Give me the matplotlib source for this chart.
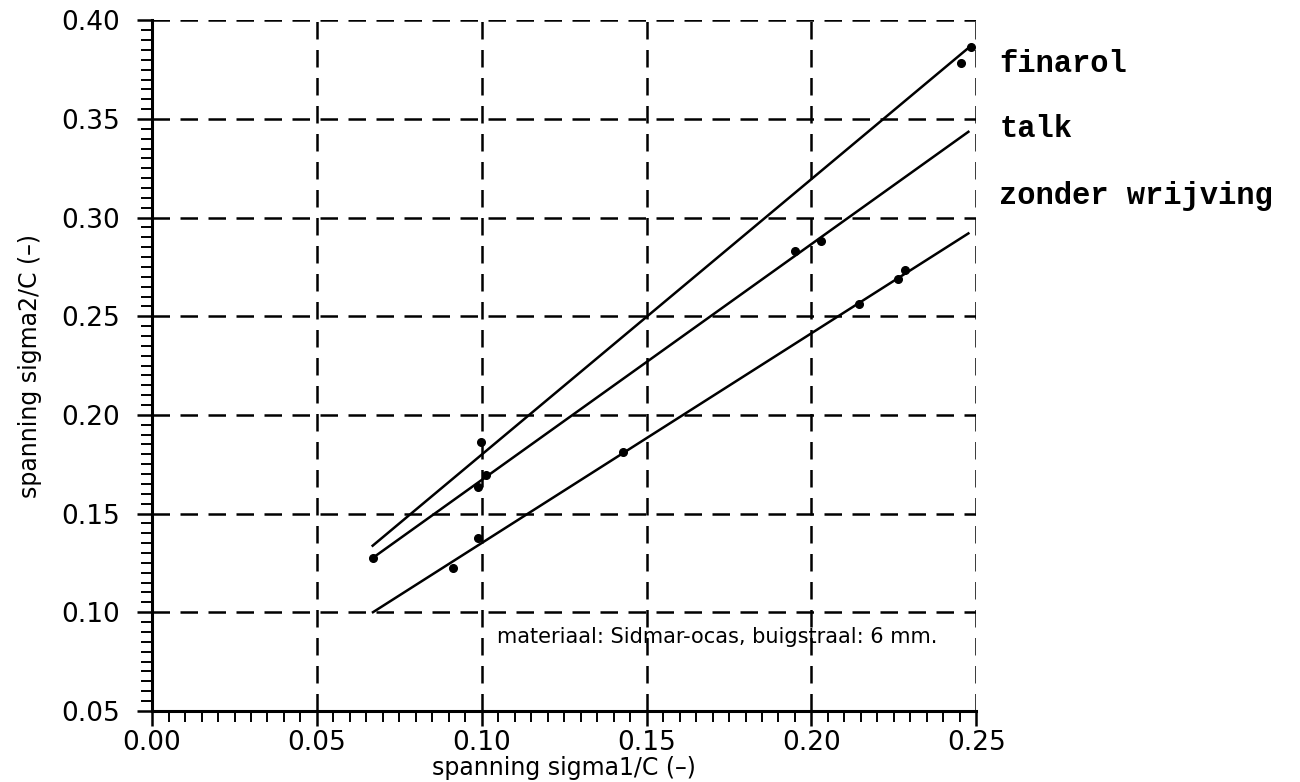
import numpy as np
import matplotlib.pyplot as plt
from matplotlib.ticker import MultipleLocator

finarol_x = [0.0999, 0.2455, 0.2485]
finarol_y = [0.1865, 0.3785, 0.3865]
talk_x = [0.0670, 0.0990, 0.1014, 0.1950, 0.2028]
talk_y = [0.1276, 0.1636, 0.1697, 0.2830, 0.2880]
zonder_x = [0.0914, 0.0990, 0.1429, 0.2143, 0.2264, 0.2285]
zonder_y = [0.1226, 0.1378, 0.1810, 0.2560, 0.2687, 0.2732]

# fitted lines (end points)
finarol_fit_x = [0.0669, 0.2476]
finarol_fit_y = [0.1337, 0.3860]
talk_fit_x = [0.0670, 0.2476]
talk_fit_y = [0.1276, 0.3435]
zonder_fit_x = [0.0670, 0.2476]
zonder_fit_y = [0.1000, 0.2920]

labels = ['finarol', 'talk', 'zonder wrijving']
label_y = [0.3780, 0.3450, 0.3110]

fig = plt.figure(figsize=(13, 7.82), dpi=100)
ax = fig.add_axes([0.1170, 0.091, 0.6340, 0.883])

ax.plot(finarol_fit_x, finarol_fit_y, color='black', lw=1.8)
ax.plot(talk_fit_x, talk_fit_y, color='black', lw=1.8)
ax.plot(zonder_fit_x, zonder_fit_y, color='black', lw=1.8)
for xs, ys in [(finarol_x, finarol_y), (talk_x, talk_y), (zonder_x, zonder_y)]:
    ax.plot(xs, ys, ls='none', marker='o', ms=5.5, color='black')

ax.set_xlim(0, 0.25)
ax.set_ylim(0.05, 0.40)
ax.xaxis.set_major_locator(MultipleLocator(0.05))
ax.yaxis.set_major_locator(MultipleLocator(0.05))
ax.xaxis.set_minor_locator(MultipleLocator(0.005))
ax.yaxis.set_minor_locator(MultipleLocator(0.005))
ax.xaxis.set_major_formatter(plt.FormatStrFormatter('%.2f'))
ax.yaxis.set_major_formatter(plt.FormatStrFormatter('%.2f'))
ax.tick_params(which='major', length=11, width=1.8, labelsize=19, direction='out')
ax.tick_params(which='minor', length=8, width=1.4, direction='out')
ax.tick_params(axis='y', which='major', pad=12)
ax.tick_params(axis='x', which='major', pad=3)

ax.spines['top'].set_visible(False)
ax.spines['right'].set_visible(False)
ax.spines['left'].set_linewidth(2.2)
ax.spines['bottom'].set_linewidth(2.2)
ax.grid(True, which='major', color='black', ls=(0, (7, 4.2)), lw=1.8)
ax.set_axisbelow(True)

ax.set_xlabel('spanning sigma1/C (\u2013)', fontsize=17, labelpad=0)
ax.set_ylabel('spanning sigma2/C (\u2013)', fontsize=17)
ax.yaxis.set_label_coords(-0.134, 0.5)

for lab, yy in zip(labels, label_y):
    ax.text(0.2570, yy, lab, fontsize=22, fontweight='bold',
            family='Liberation Mono', va='center', ha='left', clip_on=False)

ax.text(0.1045, 0.0876, 'materiaal: Sidmar-ocas, buigstraal: 6 mm.',
        fontsize=15, va='center', ha='left')

fig.savefig('out.png', dpi=100)
